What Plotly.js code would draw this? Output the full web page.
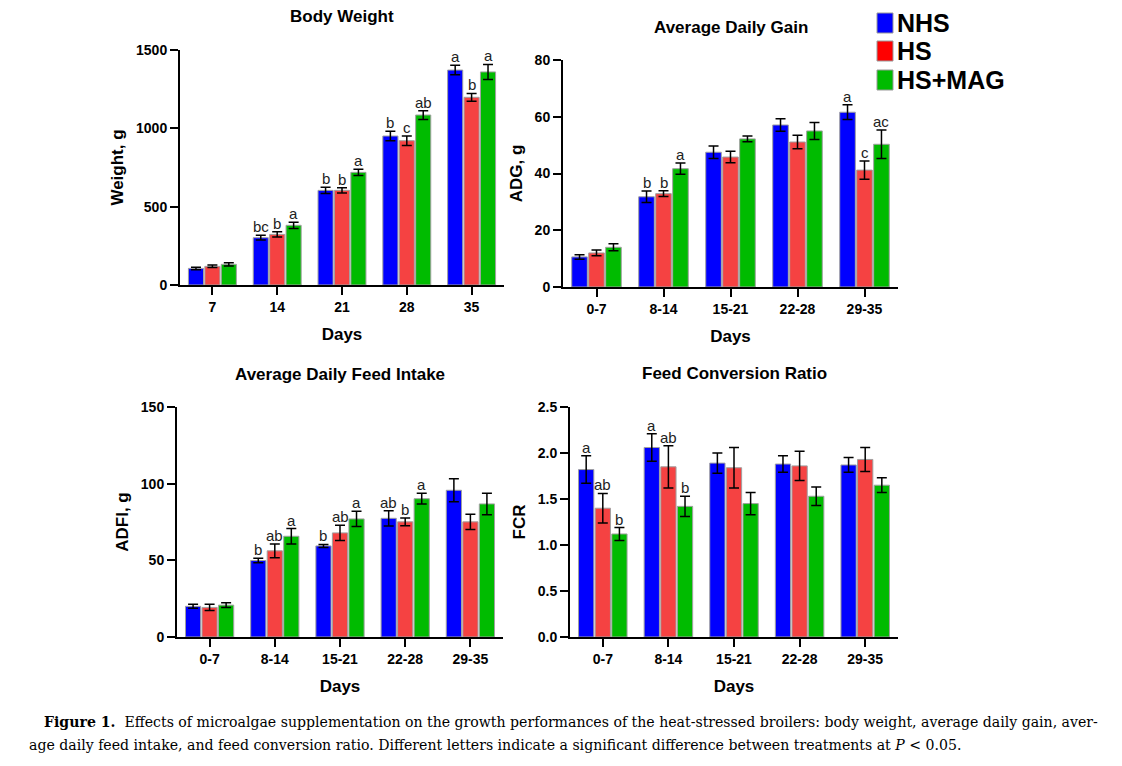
<!DOCTYPE html>
<html>
<head>
<meta charset="utf-8">
<script src="https://cdn.plot.ly/plotly-3.0.1.min.js"></script>
<style>
html,body{margin:0;padding:0;background:#fff;}
#chart{width:1122px;height:766px;}
</style>
</head>
<body>
<div id="chart"></div>
<script>
// ---------- data ----------
const seriesNames = ['NHS', 'HS', 'HS+MAG'];
const daysBW = ['7', '14', '21', '28', '35'];
const periods = ['0-7', '8-14', '15-21', '22-28', '29-35'];

// Body weight (g)
const bwNHS = [106, 302, 604, 951, 1372];
const bwHS = [119, 323, 604, 921, 1198];
const bwMAG = [132, 381, 719, 1085, 1360];
const bwNHSerr = [8, 15, 20, 30, 30];
const bwHSerr = [8, 17, 17, 30, 25];
const bwMAGerr = [10, 20, 20, 28, 48];
const bwNHSlet = ['', 'bc', 'b', 'b', 'a'];
const bwHSlet = ['', 'b', 'b', 'c', 'b'];
const bwMAGlet = ['', 'a', 'a', 'ab', 'a'];

// Average daily gain (g)
const adgNHS = [10.6, 31.8, 47.5, 57.1, 61.6];
const adgHS = [12.0, 32.9, 45.8, 51.1, 41.2];
const adgMAG = [14.0, 41.7, 52.2, 55.0, 50.3];
const adgNHSerr = [0.8, 2.0, 2.2, 2.2, 2.6];
const adgHSerr = [1.0, 1.0, 2.0, 2.4, 3.2];
const adgMAGerr = [1.2, 2.0, 1.0, 3.0, 5.0];
const adgNHSlet = ['', 'b', '', '', 'a'];
const adgHSlet = ['', 'b', '', '', 'c'];
const adgMAGlet = ['', 'a', '', '', 'ac'];

// Average daily feed intake (g)
const adfiNHS = [20.0, 49.9, 59.4, 77.4, 95.7];
const adfiHS = [19.3, 56.2, 67.9, 75.1, 75.1];
const adfiMAG = [20.8, 65.7, 77.0, 90.2, 86.8];
const adfiNHSerr = [1.3, 1.5, 1.0, 5.0, 7.5];
const adfiHSerr = [2.0, 4.5, 5.0, 2.5, 5.0];
const adfiMAGerr = [1.5, 5.0, 5.0, 3.5, 7.0];
const adfiNHSlet = ['', 'b', 'b', 'ab', ''];
const adfiHSlet = ['', 'ab', 'ab', 'b', ''];
const adfiMAGlet = ['', 'a', 'a', 'a', ''];

// Feed conversion ratio
const fcrNHS = [1.82, 2.06, 1.89, 1.88, 1.87];
const fcrHS = [1.40, 1.85, 1.84, 1.86, 1.93];
const fcrMAG = [1.12, 1.42, 1.45, 1.53, 1.65];
const fcrNHSerr = [0.15, 0.15, 0.11, 0.09, 0.08];
const fcrHSerr = [0.16, 0.23, 0.22, 0.16, 0.13];
const fcrMAGerr = [0.07, 0.11, 0.12, 0.10, 0.08];
const fcrNHSlet = ['a', 'a', '', '', ''];
const fcrHSlet = ['ab', 'ab', '', '', ''];
const fcrMAGlet = ['b', 'b', '', '', ''];

// ---------- styling ----------
const barColors = ['#0000ff', '#f54242', '#00bb00'];
const legendColors = ['#0000ff', '#ff0000', '#00bb00'];
const FONT = 'Arial, "Liberation Sans", Helvetica, sans-serif';
const W = 1122, H = 766;
const BARGAP = 0.24;

const panels = [
  {cats: daysBW, vals: [bwNHS, bwHS, bwMAG], errs: [bwNHSerr, bwHSerr, bwMAGerr],
   lets: [bwNHSlet, bwHSlet, bwMAGlet], title: 'Body Weight', ytitle: 'Weight, g',
   range: [0, 1500], dtick: 500, fmt: '', px: [180, 504], py: [50, 285], tpos: [342, 17]},
  {cats: periods, vals: [adgNHS, adgHS, adgMAG], errs: [adgNHSerr, adgHSerr, adgMAGerr],
   lets: [adgNHSlet, adgHSlet, adgMAGlet], title: 'Average Daily Gain', ytitle: 'ADG, g',
   range: [0, 80], dtick: 20, fmt: '', px: [563, 898], py: [60, 287], tpos: [731, 27]},
  {cats: periods, vals: [adfiNHS, adfiHS, adfiMAG], errs: [adfiNHSerr, adfiHSerr, adfiMAGerr],
   lets: [adfiNHSlet, adfiHSlet, adfiMAGlet], title: 'Average Daily Feed Intake', ytitle: 'ADFI, g',
   range: [0, 150], dtick: 50, fmt: '', px: [177, 503], py: [407, 637], tpos: [340, 374]},
  {cats: periods, vals: [fcrNHS, fcrHS, fcrMAG], errs: [fcrNHSerr, fcrHSerr, fcrMAGerr],
   lets: [fcrNHSlet, fcrHSlet, fcrMAGlet], title: 'Feed Conversion Ratio', ytitle: 'FCR',
   range: [0, 2.5], dtick: 0.5, fmt: '.1f', px: [570, 898], py: [407, 637], tpos: [734, 373]}
];

const traces = [];
const annotations = [];
const shapes = [];
const layout = {
  width: W, height: H,
  margin: {l: 0, r: 0, t: 0, b: 0},
  paper_bgcolor: '#ffffff', plot_bgcolor: '#ffffff',
  barmode: 'group', bargap: BARGAP, bargroupgap: 0.08,
  showlegend: false,
  font: {family: FONT, color: '#000'}
};

const slot = (1 - BARGAP) / 3;

panels.forEach((p, i) => {
  const n = i + 1;
  const xa = 'x' + (n === 1 ? '' : n), ya = 'y' + (n === 1 ? '' : n);
  for (let k = 0; k < 3; k++) {
    traces.push({
      type: 'bar', x: p.cats, y: p.vals[k], name: seriesNames[k],
      xaxis: xa, yaxis: ya,
      marker: {color: barColors[k], line: {color: '#a0a0a0', width: 1}},
      error_y: {type: 'data', array: p.errs[k], visible: true, color: '#000', thickness: 1.5, width: 5},
      hoverinfo: 'skip'
    });
    p.lets[k].forEach((t, j) => {
      if (!t) return;
      annotations.push({
        xref: xa, yref: ya, x: j + (k - 1) * slot, y: p.vals[k][j] + p.errs[k][j],
        text: t, showarrow: false, yanchor: 'bottom', yshift: -2,
        font: {family: FONT, size: 15, color: '#222'}
      });
    });
  }
  const axisCommon = {
    showline: true, linecolor: '#000', linewidth: 2,
    ticks: 'outside', ticklen: 8, tickwidth: 2, tickcolor: '#000',
    showgrid: false, zeroline: false, fixedrange: true,
    tickfont: {family: FONT, size: 14, color: '#000', weight: 'bold'}
  };
  layout['xaxis' + (n === 1 ? '' : n)] = Object.assign({}, axisCommon, {
    domain: [p.px[0] / W, p.px[1] / W], anchor: ya,
    type: 'category', range: [-0.5, 4.5],
    title: {text: 'Days', font: {family: FONT, size: 17, color: '#000', weight: 'bold'}, standoff: 14}
  });
  layout['yaxis' + (n === 1 ? '' : n)] = Object.assign({}, axisCommon, {
    domain: [1 - p.py[1] / H, 1 - p.py[0] / H], anchor: xa,
    range: p.range, dtick: p.dtick, tick0: 0, tickformat: p.fmt,
    title: {text: p.ytitle, font: {family: FONT, size: 17, color: '#000', weight: 'bold'}, standoff: 8}
  });
  annotations.push({
    xref: 'paper', yref: 'paper', x: p.tpos[0] / W, y: 1 - p.tpos[1] / H,
    text: '<b>' + p.title + '</b>', showarrow: false, xanchor: 'center', yanchor: 'middle',
    font: {family: FONT, size: 17, color: '#000'}
  });
});

// legend (drawn manually)
const legY = [23, 51, 80];
seriesNames.forEach((s, k) => {
  shapes.push({
    type: 'rect', xref: 'paper', yref: 'paper',
    x0: 877 / W, x1: 893 / W, y0: 1 - (legY[k] + 10) / H, y1: 1 - (legY[k] - 10) / H,
    fillcolor: legendColors[k], line: {color: '#999', width: 1}
  });
  annotations.push({
    xref: 'paper', yref: 'paper', x: 895 / W, y: 1 - legY[k] / H,
    text: '<b>' + s + '</b>', showarrow: false, xanchor: 'left', yanchor: 'middle',
    font: {family: FONT, size: 25, color: '#000'}
  });
});

// caption
const SERIF = '"DejaVu Serif", "Liberation Serif", serif';
annotations.push({
  xref: 'paper', yref: 'paper', x: 42 / W, y: 1 - 722 / H, xanchor: 'left', yanchor: 'middle',
  showarrow: false, align: 'left',
  text: '<b>Figure 1.</b>  Effects of microalgae supplementation on the growth performances of the heat-stressed broilers: body weight, average daily gain, aver-',
  font: {family: SERIF, size: 14.1, color: '#000'}
});
annotations.push({
  xref: 'paper', yref: 'paper', x: 27 / W, y: 1 - 745 / H, xanchor: 'left', yanchor: 'middle',
  showarrow: false, align: 'left',
  text: 'age daily feed intake, and feed conversion ratio. Different letters indicate a significant difference between treatments at <i>P</i> &lt; 0.05.',
  font: {family: SERIF, size: 14.1, color: '#000'}
});

layout.annotations = annotations;
layout.shapes = shapes;

Plotly.newPlot('chart', traces, layout, {staticPlot: true, displayModeBar: false});
</script>
</body>
</html>
